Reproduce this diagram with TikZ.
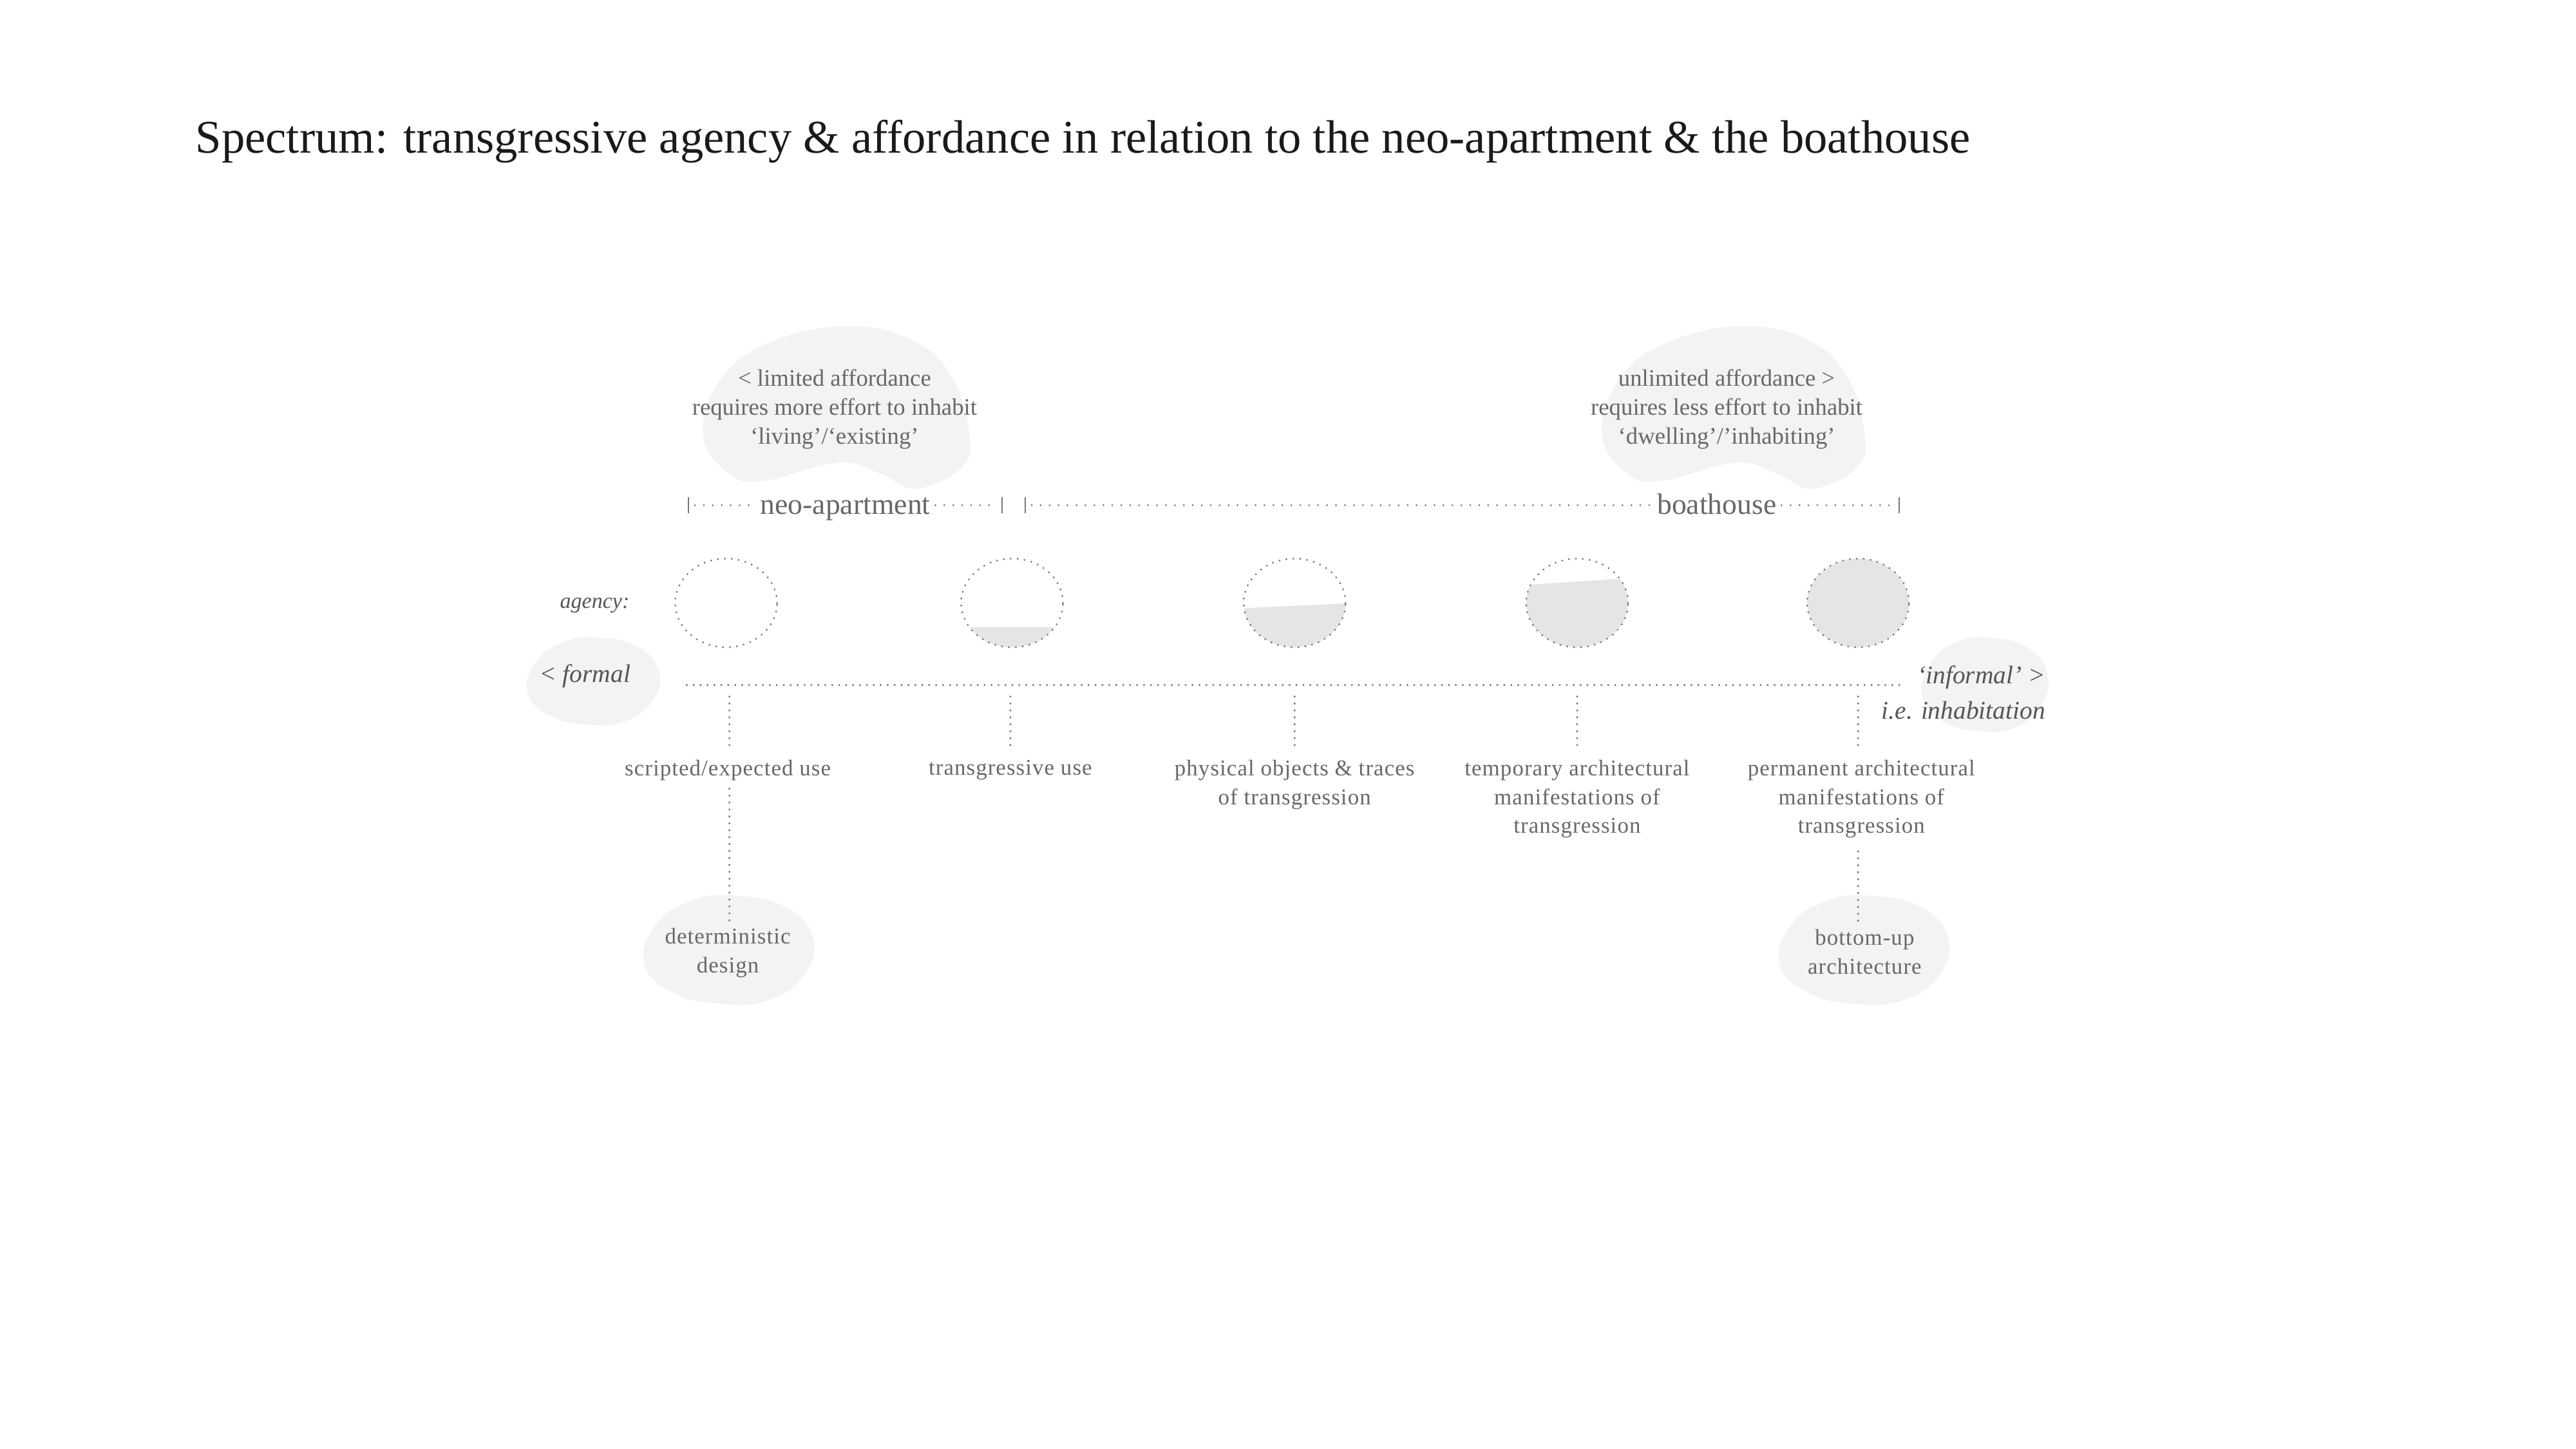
\documentclass[tikz,border=0pt]{standalone}
\usepackage{fontspec}
\setmainfont{Liberation Serif}
\newfontfamily\lblfont[LetterSpace=3]{Liberation Serif}
\usetikzlibrary{shapes.geometric}
\definecolor{titlec}{HTML}{1A1A1A}
\definecolor{txtc}{HTML}{686868}
\definecolor{itc}{HTML}{555555}
\definecolor{dotc}{HTML}{767676}
\definecolor{barc}{HTML}{777777}
\definecolor{blobc}{HTML}{F3F3F3}
\definecolor{fillc}{HTML}{E5E5E5}
\newcommand\bigblob[4]{%
  \begin{scope}[shift={(#1,#2)}, xscale=#3, yscale=#4]
    \fill[blobc] plot[smooth cycle, tension=0.7] coordinates {
      (0.05,-0.5) (0.3,-0.4) (0.44,-0.17) (0.5,0.17) (0.47,0.37) (0.3,0.5)
      (0.17,0.41) (0.01,0.34) (-0.27,0.45) (-0.4,0.41) (-0.5,0.17)
      (-0.435,-0.17) (-0.25,-0.4)};
  \end{scope}}
\newcommand\smallblob[4]{%
  \begin{scope}[shift={(#1,#2)}, xscale=#3, yscale=#4]
    \fill[blobc] plot[smooth cycle, tension=0.75] coordinates {
      (0.0,-0.5) (0.32,-0.4) (0.49,-0.1) (0.43,0.25) (0.22,0.47) (-0.05,0.5)
      (-0.33,0.4) (-0.5,0.12) (-0.42,-0.25) (-0.22,-0.45)};
  \end{scope}}
\begin{document}
\begin{tikzpicture}[x=1mm, y=-1mm,
  txt/.style={text=txtc, inner sep=0pt, align=center},
  hdrtxt/.style={txt, font=\fontsize{41}{50}\selectfont},
  rngtxt/.style={txt, font=\fontsize{51}{60}\selectfont},
  lbltxt/.style={txt, font=\lblfont\fontsize{39}{50}\selectfont},
  itxt/.style={txt, text=itc, font=\itshape\fontsize{44}{62}\selectfont},
  dotline/.style={draw=dotc, line width=3.8pt, line cap=round, dash pattern=on 0pt off 12pt},
  rngdot/.style={draw=dotc, line width=3.4pt, line cap=round, dash pattern=on 0pt off 15.5pt},
  agencyshape/.style={ellipse, draw=dotc, line width=3.6pt, line cap=round, dash pattern=on 0pt off 12pt, minimum width=62mm, minimum height=54mm, inner sep=0pt},
  bar/.style={draw=barc, line width=1.6pt}
]
\useasboundingbox (0,0) rectangle (1568,882);

% title
\node[anchor=base west, inner sep=0pt, text=titlec, font=\fontsize{81}{96}\selectfont] (title) at (119,93)
  {Spectrum: transgressive agency \& affordance in relation to the neo-apartment \& the boathouse};

% background blobs
\bigblob{509}{248}{162}{99}
\bigblob{1055}{248}{160}{99}
\smallblob{361.5}{414.5}{81}{53}
\smallblob{1208.5}{416.5}{77}{57}
\smallblob{444}{578}{104}{66}
\smallblob{1135}{578}{104}{66}

% affordance texts
\node[hdrtxt] (lim) at (508,249) {< limited affordance\\requires more effort to inhabit\\‘living’/‘existing’};
\node[hdrtxt] (unl) at (1051,249) {unlimited affordance >\\requires less effort to inhabit\\‘dwelling’/’inhabiting’};

% range line
\coordinate (b1) at (419,307.5);
\coordinate (b2) at (610,307.5);
\coordinate (b3) at (624,307.5);
\coordinate (b4) at (1156,307.5);
\node[rngtxt, anchor=base] (neo) at (514.5,313) {neo-apartment};
\node[rngtxt, anchor=base] (boat) at (1045,313) {boathouse};
\foreach \b in {b1,b2,b3,b4} \draw[bar] (\b) ++(0,-5) -- ++(0,10);
\draw[rngdot, shorten <=4mm, shorten >=3mm] (b1) -- (b1 -| neo.west);
\draw[rngdot, shorten <=3mm, shorten >=4mm] (b2 -| neo.east) -- (b2);
\draw[rngdot, shorten <=4mm, shorten >=3mm] (b3) -- (b3 -| boat.west);
\draw[rngdot, shorten <=3mm, shorten >=4mm] (b4 -| boat.east) -- (b4);

% agency shapes
\node[itxt, font=\itshape\fontsize{38}{44}\selectfont] (agency) at (362,368.5) {agency:};
\begin{scope}
  \clip (616,367) ellipse [x radius=31, y radius=27];
  \fill[fillc] (580,382) rectangle (652,400);
\end{scope}
\begin{scope}
  \clip (788,367) ellipse [x radius=31, y radius=27];
  \fill[fillc] (750,370.5) -- (826,367) -- (826,400) -- (750,400) -- cycle;
\end{scope}
\begin{scope}
  \clip (960,367) ellipse [x radius=31, y radius=27];
  \fill[fillc] (922,356.5) -- (998,351.5) -- (998,400) -- (922,400) -- cycle;
\end{scope}
\fill[fillc] (1131,367) ellipse [x radius=31, y radius=27];
\node[agencyshape] (c1) at (442,367) {};
\node[agencyshape] (c2) at (616,367) {};
\node[agencyshape] (c3) at (788,367) {};
\node[agencyshape] (c4) at (960,367) {};
\node[agencyshape] (c5) at (1131,367) {};

% axis
\coordinate (axL) at (418,417);
\coordinate (axR) at (1160,417);
\draw[dotline] (axL) -- (axR);
\node[itxt] (formal) at (356,411.5) {< formal};
\node[itxt, align=right, anchor=east] (informal) at (1245,421.5) {‘informal’ >\\i.e. inhabitation};

% labels
\node[lbltxt, anchor=north] (l1) at (443,462.5) {scripted/expected use};
\node[lbltxt, anchor=north] (l2) at (615,462.5) {transgressive use};
\node[lbltxt, anchor=north] (l3) at (788,462.5) {physical objects \& traces\\of transgression};
\node[lbltxt, anchor=north] (l4) at (960,462.5) {temporary architectural\\manifestations of\\transgression};
\node[lbltxt, anchor=north] (l5) at (1133,462.5) {permanent architectural\\manifestations of\\transgression};
\node[lbltxt] (det) at (443,580) {deterministic\\design};
\node[lbltxt] (bu) at (1135,579.5) {bottom-up\\architecture};

\coordinate (a1) at (444,424);
\coordinate (a2) at (615,424);
\coordinate (a3) at (788,424);
\coordinate (a4) at (960,424);
\coordinate (a5) at (1131,424);
\foreach \a/\l in {a1/l1,a2/l2,a3/l3,a4/l4,a5/l5}
  \draw[dotline, shorten >=5mm] (\a) -- (\a |- \l.north);
\draw[dotline, shorten <=5mm, shorten >=4mm] (a1 |- l1.south) -- (a1 |- det.north);
\draw[dotline, shorten <=8mm, shorten >=4mm] (a5 |- l5.south) -- (a5 |- bu.north);
\end{tikzpicture}
\end{document}
